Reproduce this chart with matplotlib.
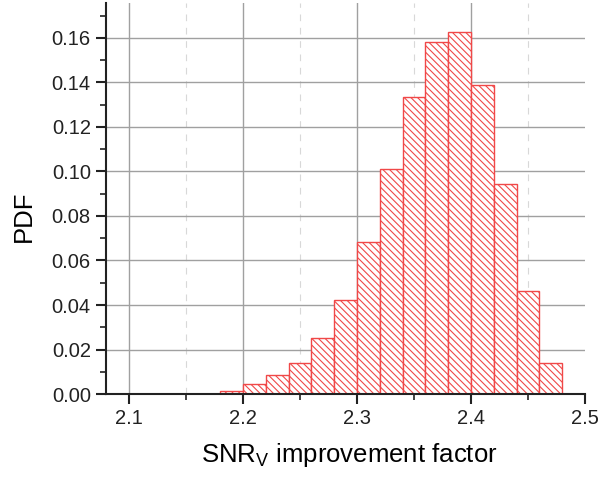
import matplotlib
matplotlib.use("Agg")
import matplotlib.pyplot as plt
from matplotlib.ticker import MultipleLocator, FormatStrFormatter
import numpy as np

plt.rcParams['font.family'] = ['Liberation Sans', 'DejaVu Sans']
plt.rcParams['hatch.linewidth'] = 0.8
plt.rcParams['mathtext.fontset'] = 'custom'
plt.rcParams['mathtext.rm'] = 'Liberation Sans'

bin_edges = [2.18, 2.20, 2.22, 2.24, 2.26, 2.28, 2.30, 2.32, 2.34, 2.36, 2.38, 2.40, 2.42, 2.44, 2.46, 2.48]
pdf_values = [0.0015, 0.0047, 0.0087, 0.0139, 0.0253, 0.0424, 0.0684, 0.1009, 0.1336, 0.158, 0.1627, 0.1388, 0.0942, 0.0462, 0.0139]
x_ticks = [2.1, 2.2, 2.3, 2.4, 2.5]
x_tick_labels = ['2.1', '2.2', '2.3', '2.4', '2.5']

fig = plt.figure(figsize=(6.03, 4.8), dpi=100)
ax = fig.add_axes([0.176, 0.179, 0.794, 0.815])

lefts = bin_edges[:-1]
widths = np.diff(bin_edges)
ax.bar(lefts, pdf_values, width=widths, align='edge', facecolor='white',
       edgecolor='#f04848', hatch='\\\\\\\\\\', linewidth=1.0, zorder=2)

ax.set_xlim(2.08, 2.5)
ax.set_ylim(0, 0.1757)
ax.xaxis.set_minor_locator(MultipleLocator(0.05))
ax.yaxis.set_major_locator(MultipleLocator(0.02))
ax.yaxis.set_minor_locator(MultipleLocator(0.01))
ax.set_xticks(x_ticks)
ax.set_xticklabels(x_tick_labels)
ax.yaxis.set_major_formatter(FormatStrFormatter('%.2f'))

ax.grid(which='major', color='#a0a0a0', linewidth=1.0, zorder=0)
ax.grid(which='minor', axis='x', color='#d8d8d8', linewidth=0.8, linestyle=(0, (6, 6)), zorder=0)
ax.set_axisbelow(True)
fig.canvas.draw()
for t in ax.xaxis.get_major_ticks():
    if abs(t.get_loc() - 2.5) < 1e-9:
        t.gridline.set_visible(False)
for t in ax.xaxis.get_minor_ticks():
    if t.get_loc() > 2.49:
        t.gridline.set_visible(False)

for s in ['top', 'right']:
    ax.spines[s].set_visible(False)
for s in ['left', 'bottom']:
    ax.spines[s].set_linewidth(1.5)
    ax.spines[s].set_color('#222222')

ax.tick_params(which='major', direction='out', length=7, width=1.5, labelsize=14.5,
               colors='#222222', pad=4)
ax.tick_params(which='minor', direction='out', length=4, width=1.2, colors='#222222')

ax.set_xlabel('SNR$_\\mathregular{V}$ improvement factor', fontsize=18.5)
ax.set_ylabel('PDF', fontsize=18.5)
ax.xaxis.set_label_coords(0.507, -0.12)
ax.yaxis.set_label_coords(-0.172, 0.455)
ax.yaxis.label.set_verticalalignment('center')

fig.savefig('out.png', dpi=100)
